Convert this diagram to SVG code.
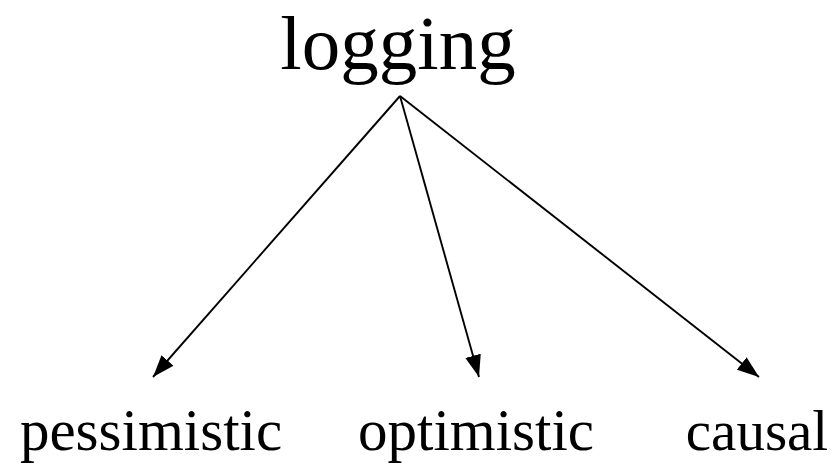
<svg xmlns="http://www.w3.org/2000/svg" width="838" height="463" viewBox="0 0 838 463">
<style>
text { font-family: "Liberation Serif", "Times New Roman", serif; fill: #000; text-anchor: middle; }
.conn { stroke: #000; stroke-width: 1.9; fill: none; }
</style>
<defs>
<marker id="arr" markerWidth="22" markerHeight="16" refX="22" refY="8" orient="auto" markerUnits="userSpaceOnUse">
<path d="M0,0 L22,8 L0,16 Z" fill="#000"/>
</marker>
</defs>
<rect width="838" height="463" fill="#fff"/>
<g id="node-logging"><text x="398" y="69" font-size="77">logging</text></g>
<g id="node-pessimistic"><text x="151" y="450" font-size="59">pessimistic</text></g>
<g id="node-optimistic"><text x="476" y="450" font-size="59">optimistic</text></g>
<g id="node-causal"><text x="757" y="450" font-size="57">causal</text></g>
<g id="connectors">
<line class="conn" x1="400" y1="96" x2="153" y2="377" marker-end="url(#arr)"/>
<line class="conn" x1="400" y1="96" x2="479" y2="377" marker-end="url(#arr)"/>
<line class="conn" x1="400" y1="96" x2="759" y2="377" marker-end="url(#arr)"/>
</g>
</svg>
